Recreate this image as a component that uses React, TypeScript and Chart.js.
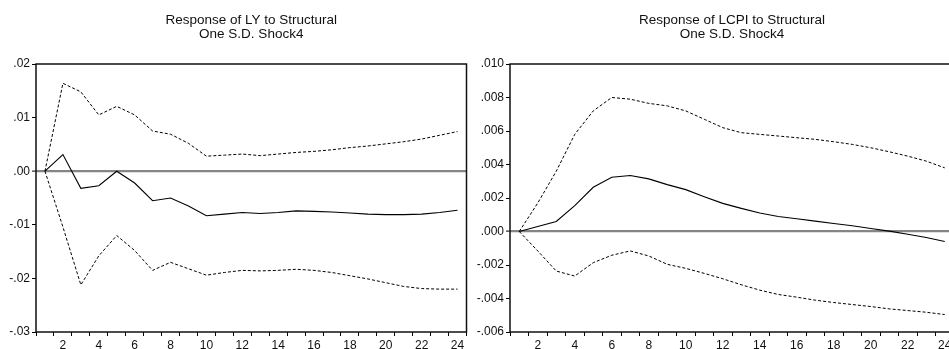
import React, { useEffect, useRef } from "react";
import { Chart, registerables } from "chart.js";

Chart.register(...registerables);

// ---------- data ----------
const PERIODS = [
  "1", "2", "3", "4", "5", "6", "7", "8", "9", "10", "11", "12",
  "13", "14", "15", "16", "17", "18", "19", "20", "21", "22", "23", "24",
];

const LY_TITLE = ["Response of LY to Structural", "One S.D. Shock4"];
const LY_RESPONSE = [
  0, 0.0031, -0.0032, -0.0027, 0.0, -0.0022, -0.0055, -0.005, -0.0065, -0.0083,
  -0.008, -0.0077, -0.0079, -0.0077, -0.0074, -0.0075, -0.0076, -0.0078, -0.008,
  -0.0081, -0.0081, -0.008, -0.0077, -0.0073,
];
const LY_UPPER = [
  0, 0.0164, 0.0148, 0.0105, 0.0121, 0.0105, 0.0075, 0.0069, 0.0052, 0.0028,
  0.003, 0.0032, 0.0029, 0.0032, 0.0035, 0.0037, 0.004, 0.0044, 0.0047, 0.0051,
  0.0055, 0.006, 0.0067, 0.0074,
];
const LY_LOWER = [
  0, -0.0104, -0.0212, -0.0158, -0.012, -0.0148, -0.0185, -0.017, -0.0182,
  -0.0194, -0.0189, -0.0185, -0.0186, -0.0185, -0.0183, -0.0185, -0.0189,
  -0.0195, -0.0201, -0.0208, -0.0215, -0.0219, -0.022, -0.022,
];
const LY_MIN = -0.03;
const LY_MAX = 0.02;
const LY_STEP = 0.01;
const LY_DECIMALS = 2;

const LCPI_TITLE = ["Response of LCPI to Structural", "One S.D. Shock4"];
const LCPI_RESPONSE = [
  0, 0.0003, 0.0006, 0.00154, 0.00264, 0.00324, 0.00334, 0.00314, 0.0028,
  0.0025, 0.00208, 0.00168, 0.00138, 0.0011, 0.0009, 0.00076, 0.00062, 0.00048,
  0.00034, 0.00018, 0.00002, -0.00016, -0.00036, -0.0006,
];
const LCPI_UPPER = [
  0, 0.0017, 0.0036, 0.0058, 0.0072, 0.008, 0.0079, 0.00765, 0.0075, 0.0072,
  0.0067, 0.0062, 0.0059, 0.0058, 0.0057, 0.0056, 0.0055, 0.00536, 0.0052,
  0.005, 0.00476, 0.0045, 0.0042, 0.0038,
];
const LCPI_LOWER = [
  0, -0.00116, -0.00236, -0.00266, -0.00186, -0.00142, -0.00116, -0.00146,
  -0.00196, -0.0022, -0.0025, -0.00282, -0.00318, -0.0035, -0.00376, -0.00392,
  -0.0041, -0.00424, -0.00436, -0.00448, -0.00462, -0.00472, -0.00482, -0.00496,
];
const LCPI_MIN = -0.006;
const LCPI_MAX = 0.01;
const LCPI_STEP = 0.002;
const LCPI_DECIMALS = 3;

// ---------- styling ----------
const FONT = "'Liberation Sans', Arial, Helvetica, sans-serif";

const framePlugin = {
  id: "frame",
  afterDatasetsDraw(chart: any) {
    const { ctx, chartArea } = chart;
    const { left, top, right, bottom } = chartArea;
    ctx.save();
    ctx.strokeStyle = "#111";
    ctx.lineWidth = 1.5;
    ctx.strokeRect(left, top, right - left, bottom - top);
    ctx.restore();
  },
};

const panelTitlePlugin = {
  id: "panelTitle",
  afterDraw(chart: any, _args: any, opts: any) {
    const { ctx, chartArea } = chart;
    const lines: string[] = opts.lines || [];
    const cx = (chartArea.left + chartArea.right) / 2;
    ctx.save();
    ctx.fillStyle = "#111";
    ctx.font = `${opts.size || 13.5}px ${FONT}`;
    ctx.textAlign = "center";
    ctx.textBaseline = "alphabetic";
    lines.forEach((l, i) => {
      ctx.fillText(l, cx, (opts.firstBaseline || 24) + i * (opts.lineGap || 13.7));
    });
    ctx.restore();
  },
};

function fmt(v: number, d: number) {
  const s = Math.abs(v) < 1e-12 ? (0).toFixed(d) : v.toFixed(d);
  return s.replace(/^(-?)0\./, "$1.");
}

type PanelProps = {
  left: number;
  width: number;
  yAxisWidth: number;
  padRight: number;
  title: string[];
  response: number[];
  upper: number[];
  lower: number[];
  min: number;
  max: number;
  step: number;
  decimals: number;
};

function Panel(p: PanelProps) {
  const ref = useRef<HTMLCanvasElement | null>(null);
  useEffect(() => {
    if (!ref.current) return;
    const dashed = {
      borderColor: "#000",
      borderWidth: 1,
      borderDash: [3, 2],
      pointRadius: 0,
      tension: 0,
      fill: false,
    };
    const chart = new Chart(ref.current, {
      type: "line",
      data: {
        labels: PERIODS,
        datasets: [
          { label: "upper", data: p.upper, ...dashed },
          {
            label: "response",
            data: p.response,
            borderColor: "#000",
            borderWidth: 1.1,
            pointRadius: 0,
            tension: 0,
            fill: false,
          },
          { label: "lower", data: p.lower, ...dashed },
        ],
      },
      options: {
        responsive: false,
        animation: false,
        devicePixelRatio: 1,
        events: [],
        layout: { padding: { top: 64, left: 0, right: p.padRight, bottom: 0 } },
        plugins: {
          legend: { display: false },
          tooltip: { enabled: false },
          title: { display: false },
          // @ts-ignore
          panelTitle: { lines: p.title, size: 13.5, firstBaseline: 24, lineGap: 13.7 },
        },
        scales: {
          x: {
            type: "category",
            offset: true,
            afterFit: (s: any) => {
              s.height = 17;
            },
            border: { display: false },
            grid: {
              offset: true,
              drawOnChartArea: false,
              drawTicks: true,
              tickLength: 4,
              tickColor: "#000",
              tickWidth: 1,
            },
            ticks: {
              autoSkip: false,
              maxRotation: 0,
              padding: 2,
              color: "#111",
              font: { family: FONT, size: 12 },
              callback: function (this: any, value: any, index: number) {
                return index % 2 === 1 ? this.getLabelForValue(value) : "";
              },
            },
          },
          y: {
            type: "linear",
            min: p.min,
            max: p.max,
            afterFit: (s: any) => {
              s.width = p.yAxisWidth;
            },
            border: { display: false },
            grid: {
              drawOnChartArea: true,
              drawTicks: true,
              tickLength: 4,
              tickColor: "#000",
              tickWidth: 1,
              color: (c: any) =>
                c.tick && Math.abs(c.tick.value) < 1e-9 ? "#858585" : "rgba(0,0,0,0)",
              lineWidth: (c: any) =>
                c.tick && Math.abs(c.tick.value) < 1e-9 ? 2.2 : 1,
            },
            ticks: {
              stepSize: p.step,
              autoSkip: false,
              padding: 2,
              color: "#111",
              font: { family: FONT, size: 12 },
              callback: (v: any) => fmt(Number(v), p.decimals),
            },
          },
        },
      },
      plugins: [framePlugin, panelTitlePlugin],
    } as any);
    return () => chart.destroy();
  }, []);
  return (
    <canvas
      ref={ref}
      width={p.width}
      height={349}
      style={{ position: "absolute", left: p.left, top: 0, width: p.width, height: 349 }}
    />
  );
}

export default function App() {
  return (
    <div
      style={{
        position: "fixed",
        left: 0,
        top: 0,
        width: 949,
        height: 349,
        overflow: "hidden",
        background: "#fff",
      }}
    >
      <Panel
        left={0}
        width={475}
        yAxisWidth={36}
        padRight={475 - 466.5}
        title={LY_TITLE}
        response={LY_RESPONSE}
        upper={LY_UPPER}
        lower={LY_LOWER}
        min={LY_MIN}
        max={LY_MAX}
        step={LY_STEP}
        decimals={LY_DECIMALS}
      />
      <Panel
        left={475}
        width={480}
        yAxisWidth={35}
        padRight={1}
        title={LCPI_TITLE}
        response={LCPI_RESPONSE}
        upper={LCPI_UPPER}
        lower={LCPI_LOWER}
        min={LCPI_MIN}
        max={LCPI_MAX}
        step={LCPI_STEP}
        decimals={LCPI_DECIMALS}
      />
    </div>
  );
}
